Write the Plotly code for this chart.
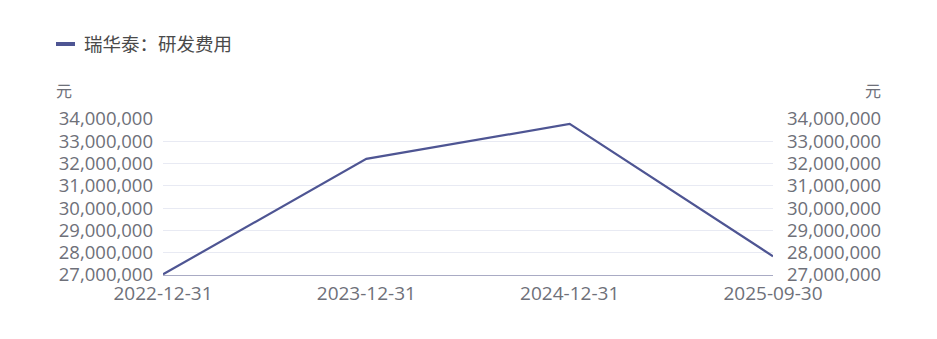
import plotly.graph_objects as go

categories = ["2022-12-31", "2023-12-31", "2024-12-31", "2025-09-30"]
values = [27030000, 32210000, 33780000, 27840000]
series_name = "瑞华泰：研发费用"
unit_label = "元"
y_min, y_max, y_step = 27000000, 34000000, 1000000

W, H = 937, 339
ML, MR, MT, MB = 163, 164, 119, 64
pw = W - ML - MR
ph = H - MT - MB

line_color = "#4e5593"
tick_color = "#6E7079"
cjk_font = "Noto Sans CJK SC, sans-serif"
num_font = "Open Sans, Noto Sans CJK SC, sans-serif"

fig = go.Figure()
fig.add_trace(go.Scatter(x=categories, y=values, mode="lines",
                         line=dict(color=line_color, width=2.2),
                         name=series_name, showlegend=False, yaxis="y"))
fig.add_trace(go.Scatter(x=categories, y=values, mode="lines",
                         line=dict(color="rgba(0,0,0,0)", width=0),
                         showlegend=False, hoverinfo="skip", yaxis="y2"))

tickvals = list(range(y_min, y_max + 1, y_step))
axis_common = dict(range=[y_min, y_max], tickvals=tickvals, tickformat=",d",
                   tickfont=dict(size=18.5, color=tick_color, family=num_font),
                   zeroline=False, showline=False)

fig.update_layout(
    width=W, height=H,
    margin=dict(l=ML, r=MR, t=MT, b=MB, pad=0),
    paper_bgcolor="white", plot_bgcolor="white",
    font=dict(family=num_font),
    xaxis=dict(type="category", range=[0, len(categories) - 1],
               showgrid=False, zeroline=False,
               showline=True, linecolor="#A9ABC4", linewidth=1,
               tickfont=dict(size=19, color=tick_color, family=num_font),
               ticks="", ticklabelstandoff=1),
    yaxis=dict(showgrid=True, gridcolor="#E8EAF3", gridwidth=1, side="left",
               ticklabelstandoff=9, **axis_common),
    yaxis2=dict(overlaying="y", side="right", showgrid=False,
                ticklabelstandoff=13, **axis_common),
    annotations=[
        dict(text=unit_label, xref="paper", yref="paper",
             x=(64 - ML) / pw, y=1 + (MT - 90) / ph, xanchor="center", yanchor="middle",
             showarrow=False, font=dict(size=16, color=tick_color, family=cjk_font)),
        dict(text=unit_label, xref="paper", yref="paper",
             x=(873 - ML) / pw, y=1 + (MT - 90) / ph, xanchor="center", yanchor="middle",
             showarrow=False, font=dict(size=16, color=tick_color, family=cjk_font)),
        dict(text=series_name, xref="paper", yref="paper",
             x=(82 - ML) / pw, y=1 + (MT - 43) / ph, xanchor="left", yanchor="middle",
             showarrow=False, font=dict(size=18.5, color="#4a4a4a", family=cjk_font)),
    ],
    shapes=[
        dict(type="line", xref="paper", yref="paper",
             x0=(56 - ML) / pw, x1=(75 - ML) / pw,
             y0=1 + (MT - 44) / ph, y1=1 + (MT - 44) / ph,
             line=dict(color=line_color, width=4)),
    ],
)

fig.write_html("out.html")
